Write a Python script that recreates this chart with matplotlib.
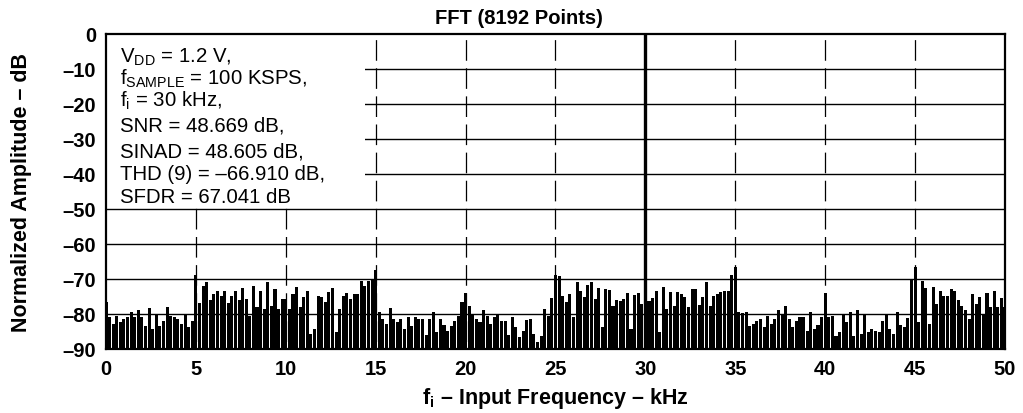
import numpy as np
import matplotlib.pyplot as plt
from matplotlib.patches import Rectangle

plt.rcParams['font.family'] = ['Liberation Sans', 'DejaVu Sans']
plt.rcParams['mathtext.fontset'] = 'custom'
plt.rcParams['mathtext.rm'] = 'Liberation Sans'
plt.rcParams['mathtext.it'] = 'Liberation Sans'
plt.rcParams['mathtext.bf'] = 'Liberation Sans:bold'

# spectrum, one value every 0.2 kHz (0 .. 50 kHz)
bin_step_khz = 0.2
amplitude_db = [
    -76.7, -81, -83, -80.5, -82.4, -81.5, -81, -79.5, -81, -79,
    -81, -83.3, -78.3, -84.3, -80, -83.3, -82, -78, -80.5, -81,
    -81.5, -82.9, -80.3, -83.8, -82, -69, -77, -72, -70.8, -76,
    -74.3, -73.3, -75, -73.5, -77, -74.8, -73.5, -76, -72.6, -75.7,
    -80.5, -72, -78, -73.5, -78.6, -71, -77.6, -73, -78.6, -75.7,
    -75.7, -78.6, -74.3, -72.4, -78, -75.2, -73.5, -85.7, -84.3, -74.8,
    -75.2, -76.7, -73.8, -72.6, -85.2, -78.6, -74.8, -74, -75.7, -74.3,
    -74.3, -70.5, -71.9, -70.5, -70, -67.3, -79.5, -81.4, -82.9, -78.3,
    -81.4, -82.4, -81.4, -84.3, -81, -83.3, -80.8, -81.4, -81.4, -86,
    -81.4, -79.3, -85.2, -81.4, -83.1, -84.8, -83.3, -81.9, -80.5, -76.7,
    -74, -77.6, -80, -81.4, -82.4, -79, -80.5, -82.9, -81, -80,
    -81.9, -81.9, -86, -81, -83.8, -86.7, -84.8, -81.6, -81.4, -85.7,
    -88, -86.2, -78.6, -80.5, -75.5, -69, -69.2, -74.8, -76.7, -74.3,
    -81, -71, -73.3, -75.2, -71.6, -70.8, -75.7, -72.7, -83.8, -72.9,
    -73.1, -77.8, -75.9, -76.2, -75.7, -74, -84.3, -74.5, -74, -77.1,
    0, -76.2, -75.5, -73.3, -85.2, -72.4, -78.6, -73.8, -77.6, -73.8,
    -74.3, -75.2, -78.1, -72.8, -72.8, -77.4, -75.2, -71, -77.6, -74.8,
    -74.3, -73.8, -73.3, -73.3, -69, -66.7, -79.5, -79.8, -79.5, -83.3,
    -82.9, -81.9, -81.4, -83.6, -80.5, -82.9, -81.4, -79, -80, -77.8,
    -81.4, -83.8, -81.9, -81, -81, -84.8, -79.3, -84.3, -83.1, -81,
    -74, -81, -80.5, -86.2, -85.2, -80, -82.4, -79.5, -86.2, -78.8,
    -85.7, -80, -85.2, -84.3, -84.8, -85.2, -81.9, -80, -84.3, -85.7,
    -79.5, -83.1, -83.8, -81.2, -70, -66.7, -82.4, -70.5, -72.5, -82.9,
    -72.4, -77.1, -73.3, -74.8, -74.8, -72.9, -73.3, -75.9, -77.6, -79,
    -81.4, -74.3, -77.1, -75.2, -80, -74, -78.1, -73.3, -78.1, -75.5,
    -78.1,
]
freq_khz = np.arange(len(amplitude_db)) * bin_step_khz

x_ticks = [0, 5, 10, 15, 20, 25, 30, 35, 40, 45, 50]
y_ticks = [0, -10, -20, -30, -40, -50, -60, -70, -80, -90]

info_lines = [
    r'V$_\mathregular{DD}$ = 1.2 V,',
    r'f$_\mathregular{SAMPLE}$ = 100 KSPS,',
    r'f$_\mathregular{i}$ = 30 kHz,',
    'SNR = 48.669 dB,',
    'SINAD = 48.605 dB,',
    'THD (9) = \u201366.910 dB,',
    'SFDR = 67.041 dB',
]
info_y = [-8, -14.3, -20.6, -27.7, -34.9, -41.4, -48]

fig = plt.figure(figsize=(10.23, 4.14), dpi=100)
ax = fig.add_axes([0.1036, 0.1546, 0.8788, 0.7609])

amp = np.array(amplitude_db)
ax.bar(freq_khz, amp + 90, bottom=-90, width=0.17, color='black',
       linewidth=0, zorder=3)
peak = np.argmax(amp)
ax.vlines(freq_khz[peak], -90, amp[peak], color='black', linewidth=2.4, zorder=3)

# grid: solid horizontal, long-dash vertical
for y in y_ticks[1:-1]:
    ax.axhline(y, color='black', linewidth=1.0, zorder=1)
for x in x_ticks[1:-1]:
    ax.plot([x, x], [0, -90], color='black', linewidth=0.9,
            linestyle=(18, (16.5, 6)), zorder=1)

# white panel with the test conditions
ax.add_patch(Rectangle((0.002, -48.6), 14.4, 47.8, facecolor='white',
                       edgecolor='none', zorder=2))
for line, y in zip(info_lines, info_y):
    ax.text(0.8, y, line, fontsize=14.7, va='baseline', ha='left', zorder=4)

ax.set_xlim(0, 50)
ax.set_ylim(-90, 0)
ax.set_xticks(x_ticks)
ax.set_xticklabels([str(v) for v in x_ticks], fontsize=14.5, fontweight='bold')
ax.set_yticks(y_ticks)
ax.set_yticklabels([str(v).replace('-', '\u2013') for v in y_ticks],
                   fontsize=14.5, fontweight='bold')
ax.tick_params(length=0, pad=7)
for s in ax.spines.values():
    s.set_linewidth(1.6)
    s.set_zorder(5)

ax.set_xlabel('f$_\\mathregular{i}$ \u2013 Input Frequency \u2013 kHz',
              fontsize=15.5, fontweight='bold', labelpad=5)
ax.set_ylabel('Normalized Amplitude \u2013 dB', fontsize=15.5, fontweight='bold',
              labelpad=22)
fig.text(519 / 1023, 1 - 18 / 414, 'FFT (8192 Points)', fontsize=14.5,
         fontweight='bold', ha='center', va='center')

fig.savefig('out.png', dpi=100)
